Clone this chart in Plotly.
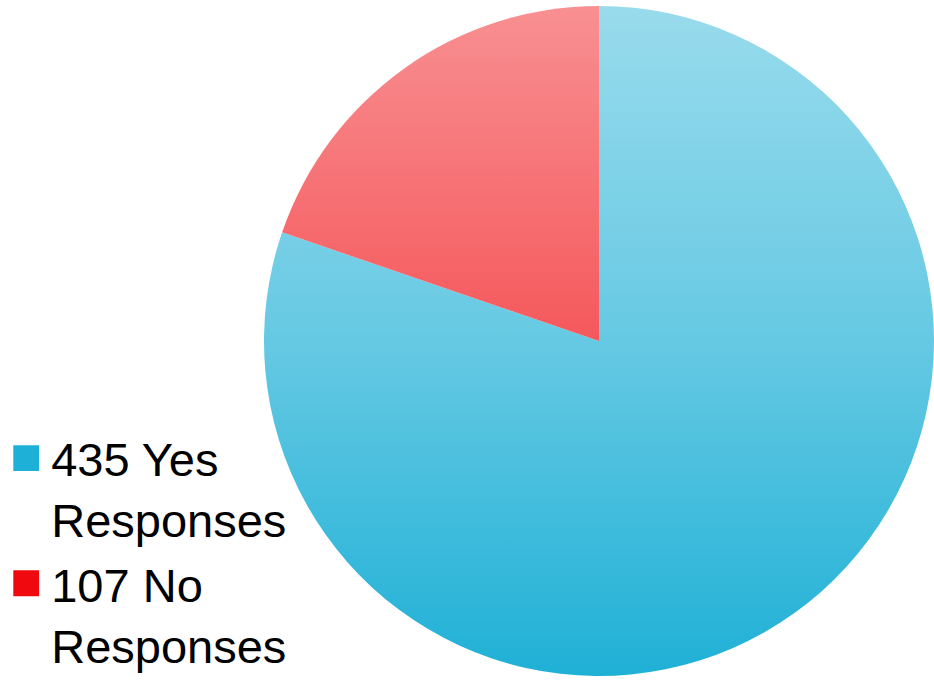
import base64
import plotly.graph_objects as go

labels = ["435 Yes<br>Responses", "107 No<br>Responses"]
values = [435, 107]
colors = ["#1eb0d6", "#f00a0f"]

fig = go.Figure(go.Pie(
    labels=labels,
    values=values,
    sort=False,
    direction="clockwise",
    rotation=0,
    textinfo="none",
    hoverinfo="label+value",
    marker=dict(colors=colors, line=dict(width=0)),
    domain=dict(x=[264/934, 1.0], y=[0, 1]),
))

# soft vertical light-to-dark sheen over the pie (decoration only)
svg = ("<svg xmlns='http://www.w3.org/2000/svg' width='100' height='100' viewBox='0 0 100 100' preserveAspectRatio='none'>"
       "<defs><linearGradient id='g' x1='0' y1='0' x2='0' y2='1'>"
       "<stop offset='0' stop-color='#ffffff' stop-opacity='0.55'/>"
       "<stop offset='0.5' stop-color='#ffffff' stop-opacity='0.32'/>"
       "<stop offset='1' stop-color='#ffffff' stop-opacity='0'/>"
       "</linearGradient></defs><rect x='0' y='0' width='100' height='100' fill='url(#g)'/></svg>")
src = "data:image/svg+xml;base64," + base64.b64encode(svg.encode()).decode()

fig.update_layout(
    width=934,
    height=682,
    margin=dict(l=0, r=0, t=0, b=0),
    paper_bgcolor="white",
    plot_bgcolor="white",
    showlegend=True,
    legend=dict(
        x=0.012, y=0.0, xanchor="left", yanchor="bottom",
        font=dict(family="Liberation Sans, Arial", size=47, color="black"),
        bgcolor="rgba(0,0,0,0)",
        valign="top",
    ),
    images=[dict(
        source=src, xref="paper", yref="paper",
        x=264/934, y=1.0, sizex=1 - 264/934, sizey=1.0,
        xanchor="left", yanchor="top", sizing="stretch", layer="above",
    )],
)

post = """
document.body.style.margin='0';
document.querySelectorAll('.legendpoints path').forEach(function(p){
  var t = p.getAttribute('transform') || '';
  p.setAttribute('transform', t + ' translate(-5,0) scale(2.15)');
});
"""

fig.write_html("out.html", post_script=post, config={"displayModeBar": False})
